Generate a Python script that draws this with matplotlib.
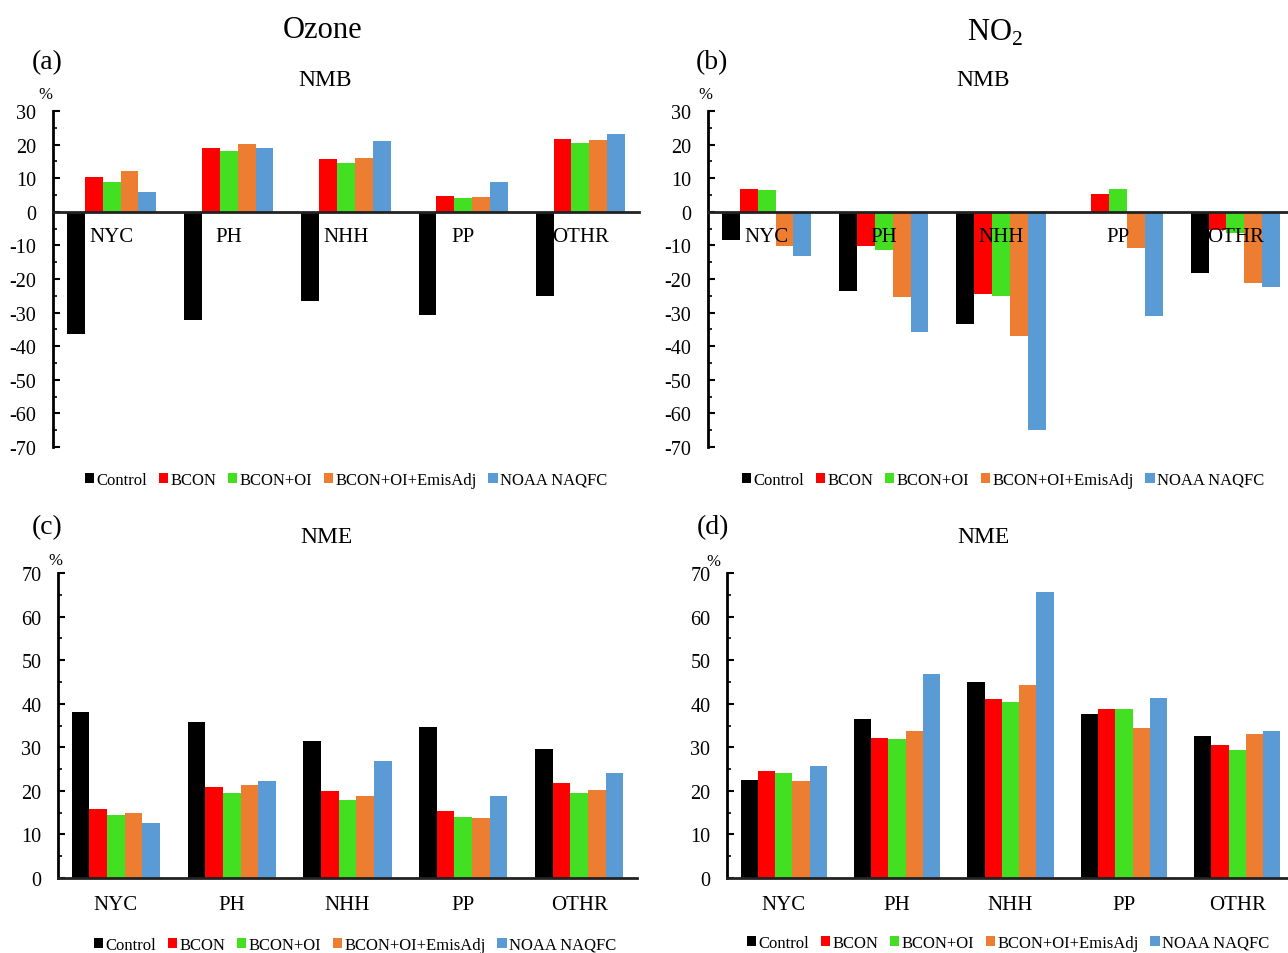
import matplotlib
matplotlib.use("Agg")
import matplotlib.pyplot as plt
import numpy as np
from matplotlib.ticker import MultipleLocator
from matplotlib.patches import Patch

plt.rcParams["font.family"] = ["Liberation Serif", "DejaVu Serif"]
plt.rcParams["mathtext.fontset"] = "custom"
plt.rcParams["mathtext.rm"] = "Liberation Serif"
plt.rcParams["axes.unicode_minus"] = False

categories = ["NYC", "PH", "NHH", "PP", "OTHR"]
series_names = ["Control", "BCON", "BCON+OI", "BCON+OI+EmisAdj", "NOAA NAQFC"]
series_colors = ["#000000", "#FF0000", "#42E021", "#ED7D31", "#5B9BD5"]

# Ozone NMB (%)
o3_nmb_control = [-36.3, -32.2, -26.6, -30.7, -25.1]
o3_nmb_bcon = [10.4, 19.1, 15.8, 4.6, 21.8]
o3_nmb_bcon_oi = [9.0, 18.2, 14.4, 4.2, 20.6]
o3_nmb_emisadj = [12.2, 20.2, 16.1, 4.4, 21.3]
o3_nmb_naqfc = [5.9, 18.9, 21.0, 8.8, 23.2]

# NO2 NMB (%)
no2_nmb_control = [-8.3, -23.6, -33.3, 0.0, -18.1]
no2_nmb_bcon = [6.8, -10.1, -24.6, 5.3, -5.3]
no2_nmb_bcon_oi = [6.5, -11.5, -25.1, 6.7, -6.3]
no2_nmb_emisadj = [-10.3, -25.5, -37.1, -10.8, -21.1]
no2_nmb_naqfc = [-13.3, -35.8, -64.8, -31.0, -22.5]

# Ozone NME (%)
o3_nme_control = [38.0, 35.7, 31.5, 34.6, 29.5]
o3_nme_bcon = [15.9, 20.8, 20.0, 15.3, 21.8]
o3_nme_bcon_oi = [14.4, 19.6, 17.9, 14.0, 19.6]
o3_nme_emisadj = [15.0, 21.4, 18.9, 13.8, 20.3]
o3_nme_naqfc = [12.6, 22.2, 26.8, 18.9, 24.0]

# NO2 NME (%)
no2_nme_control = [22.5, 36.6, 44.9, 37.6, 32.5]
no2_nme_bcon = [24.5, 32.2, 41.1, 38.9, 30.5]
no2_nme_bcon_oi = [24.1, 32.0, 40.3, 38.9, 29.4]
no2_nme_emisadj = [22.2, 33.7, 44.2, 34.4, 33.0]
no2_nme_naqfc = [25.6, 46.9, 65.7, 41.2, 33.7]

W, H = 1288, 954
fig = plt.figure(figsize=(W / 100, H / 100), dpi=100)


def box(x0, x1, ytop, ybot):
    return [x0 / W, 1 - ybot / H, (x1 - x0) / W, (ybot - ytop) / H]


def ftext(x, y, s, size, **kw):
    fig.text(x / W, 1 - y / H, s, fontsize=size, ha="center", va="center", **kw)


BAR_W = 0.152


def draw_panel(rect, data, ylim, inside_labels):
    ax = fig.add_axes(rect)
    x = np.arange(len(categories))
    n = len(data)
    for i, (vals, color) in enumerate(zip(data, series_colors)):
        ax.bar(x + (i - (n - 1) / 2) * BAR_W, vals, BAR_W, color=color,
               zorder=2, linewidth=0)
    ax.set_xlim(-0.5, len(categories) - 0.5)
    ax.set_ylim(*ylim)
    ax.yaxis.set_major_locator(MultipleLocator(10))
    ax.yaxis.set_minor_locator(MultipleLocator(5))
    ax.tick_params(axis="y", which="major", direction="in", length=5,
                   width=1.5, labelsize=14.5, pad=12)
    ax.tick_params(axis="y", which="minor", direction="in", length=3, width=1.2)
    for sp in ["top", "right"]:
        ax.spines[sp].set_visible(False)
    ax.spines["left"].set_linewidth(2)
    ax.spines["bottom"].set_linewidth(2)
    ax.spines["bottom"].set_color("#222222")
    ax.spines["bottom"].set_position(("data", 0))
    ax.spines["bottom"].set_zorder(3)
    if inside_labels:
        ax.set_xticks([])
        for xi, c in zip(x, categories):
            ax.text(xi, -7.4, c, fontsize=15, ha="center", va="center", zorder=4)
    else:
        ax.set_xticks(x)
        ax.set_xticklabels(categories, fontsize=15)
        ax.tick_params(axis="x", length=0, pad=12)
    ax.set_facecolor("none")
    return ax


def legend_at(cx, cy):
    handles = [Patch(facecolor=c, edgecolor="none") for c in series_colors]
    fig.legend(handles, series_names, loc="center", ncol=5, frameon=False,
               bbox_to_anchor=(cx / W, 1 - cy / H), fontsize=12,
               handlelength=0.55, handleheight=0.55, handletextpad=0.15,
               columnspacing=0.7, borderaxespad=0)


# (a) Ozone NMB
draw_panel(box(53, 639, 112, 448),
           [o3_nmb_control, o3_nmb_bcon, o3_nmb_bcon_oi, o3_nmb_emisadj, o3_nmb_naqfc],
           (-70, 30), True)
# (b) NO2 NMB
draw_panel(box(708, 1294, 112, 448),
           [no2_nmb_control, no2_nmb_bcon, no2_nmb_bcon_oi, no2_nmb_emisadj, no2_nmb_naqfc],
           (-70, 30), True)
# (c) Ozone NME
draw_panel(box(58, 637, 574, 879),
           [o3_nme_control, o3_nme_bcon, o3_nme_bcon_oi, o3_nme_emisadj, o3_nme_naqfc],
           (0, 70), False)
# (d) NO2 NME
draw_panel(box(727, 1294, 574, 879),
           [no2_nme_control, no2_nme_bcon, no2_nme_bcon_oi, no2_nme_emisadj, no2_nme_naqfc],
           (0, 70), False)

# Column headings, panel letters and metric titles
ftext(323, 31, "Ozone", 22)
ftext(995, 33, r"NO$_\mathregular{2}$", 22)
ftext(47, 63, "(a)", 20)
ftext(712, 63, "(b)", 20)
ftext(47, 528, "(c)", 20)
ftext(713, 528, "(d)", 20)
ftext(325, 80, "NMB", 17)
ftext(983, 80, "NMB", 17)
ftext(326, 538, "NME", 17)
ftext(983, 538, "NME", 17)
ftext(45, 95, "%", 12)
ftext(705, 95, "%", 12)
ftext(55, 561, "%", 12)
ftext(713, 562, "%", 12)

legend_at(346, 481)
legend_at(1003, 481)
legend_at(355, 946)
legend_at(1008, 944)

fig.savefig("out.png", dpi=100)
